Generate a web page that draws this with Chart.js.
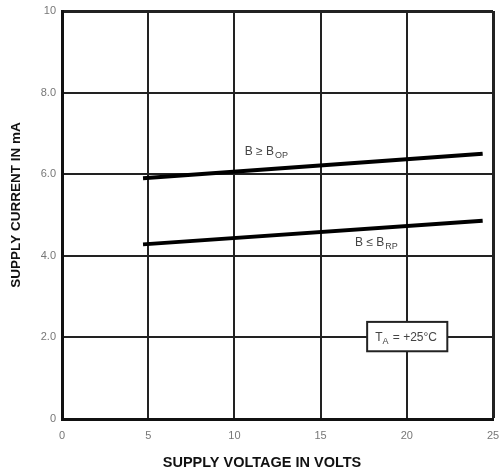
<!DOCTYPE html>
<html>
<head>
<meta charset="utf-8">
<script src="https://cdn.jsdelivr.net/npm/chart.js@4/dist/chart.umd.min.js"></script>
<style>
  html, body { margin: 0; padding: 0; background: #fff; }
  #wrap { width: 500px; height: 473px; position: relative; }
</style>
</head>
<body>
<div id="wrap"><canvas id="chart"></canvas></div>
<script>
// supply voltage (V) vs supply current (mA)
const voltsOp = [4.7, 24.4];
const currentOp = [5.9, 6.5];
const voltsRp = [4.7, 24.4];
const currentRp = [4.28, 4.86];

const xTicks = [0, 5, 10, 15, 20, 25];
const yTicks = [0, 2, 4, 6, 8, 10];
const yTickLabels = ['0', '2.0', '4.0', '6.0', '8.0', '10'];

const xTitle = 'SUPPLY VOLTAGE IN VOLTS';
const yTitle = 'SUPPLY CURRENT IN mA';

const FONT = '"Liberation Sans", Arial, sans-serif';

const toPoints = (xs, ys) => xs.map((x, i) => ({x: x, y: ys[i]}));

// labels drawn on the plot (subscripts, the temperature box, axis titles)
const annotations = {
	id: 'annotations',
	afterDatasetsDraw(chart) {
		const {ctx, scales: {x, y}} = chart;
		ctx.save();
		ctx.fillStyle = '#444';
		ctx.textBaseline = 'alphabetic';

		function subLabel(main, sub, px, py) {
			ctx.font = '12px ' + FONT;
			ctx.fillText(main, px, py);
			const w = ctx.measureText(main).width;
			ctx.font = '9px ' + FONT;
			ctx.fillText(sub, px + w + 1, py + 3);
		}

		subLabel('B \u2265 B', 'OP', x.getPixelForValue(10.6), y.getPixelForValue(6.48));
		subLabel('B \u2264 B', 'RP', x.getPixelForValue(17.0), y.getPixelForValue(4.25));

		// T_A box
		const bx0 = x.getPixelForValue(17.7), bx1 = x.getPixelForValue(22.35);
		const by0 = y.getPixelForValue(2.38), by1 = y.getPixelForValue(1.66);
		ctx.fillStyle = '#fff';
		ctx.fillRect(bx0, by0, bx1 - bx0, by1 - by0);
		ctx.strokeStyle = '#222';
		ctx.lineWidth = 2;
		ctx.strokeRect(bx0, by0, bx1 - bx0, by1 - by0);
		ctx.fillStyle = '#444';
		ctx.font = '12px ' + FONT;
		const ty = (by0 + by1) / 2 + 4;
		let tx = bx0 + 8;
		ctx.fillText('T', tx, ty);
		tx += ctx.measureText('T').width;
		ctx.font = '9px ' + FONT;
		ctx.fillText('A', tx, ty + 3);
		tx += ctx.measureText('A').width + 1;
		ctx.font = '12px ' + FONT;
		ctx.fillText(' = +25\u00B0C', tx, ty);

		// axis titles
		ctx.fillStyle = '#111';
		ctx.textAlign = 'center';
		ctx.textBaseline = 'middle';
		ctx.font = 'bold 14.5px ' + FONT;
		ctx.fillText(xTitle, 262, 463);
		ctx.translate(16, 205);
		ctx.rotate(-Math.PI / 2);
		ctx.font = 'bold 13.5px ' + FONT;
		ctx.fillText(yTitle, 0, 0);
		ctx.restore();
	}
};

const ctx = document.getElementById('chart');

new Chart(ctx, {
	type: 'scatter',
	data: {
		datasets: [
			{
				label: 'B >= BOP',
				data: toPoints(voltsOp, currentOp),
				showLine: true,
				borderColor: '#000',
				borderWidth: 4,
				pointRadius: 0
			},
			{
				label: 'B <= BRP',
				data: toPoints(voltsRp, currentRp),
				showLine: true,
				borderColor: '#000',
				borderWidth: 4,
				pointRadius: 0
			}
		]
	},
	options: {
		responsive: true,
		maintainAspectRatio: false,
		animation: false,
		layout: { padding: { top: 11, right: 7, left: 0, bottom: 0 } },
		plugins: {
			legend: { display: false },
			tooltip: { enabled: false }
		},
		scales: {
			x: {
				type: 'linear',
				min: 0,
				max: 25,
				afterBuildTicks: (axis) => { axis.ticks = xTicks.map(v => ({value: v})); },
				afterFit: (axis) => {
					axis.height = 54;
					axis.paddingLeft = 0;
					axis.paddingRight = 0;
				},
				grid: {
					color: '#222',
					lineWidth: (c) => (c.tick && c.tick.value === 25) ? 3 : 2,
					drawTicks: false
				},
				border: { color: '#111', width: 3 },
				ticks: {
					padding: 10,
					color: '#777',
					font: { family: FONT, size: 11 },
					callback: (v) => String(v)
				}
			},
			y: {
				type: 'linear',
				min: 0,
				max: 10,
				afterBuildTicks: (axis) => { axis.ticks = yTicks.map(v => ({value: v})); },
				afterFit: (axis) => {
					axis.width = 62;
					axis.paddingTop = 0;
					axis.paddingBottom = 0;
				},
				grid: {
					color: '#222',
					lineWidth: (c) => (c.tick && c.tick.value === 10) ? 3 : 2,
					drawTicks: false
				},
				border: { color: '#111', width: 3 },
				ticks: {
					padding: 6,
					color: '#777',
					font: { family: FONT, size: 11 },
					callback: (v) => yTickLabels[yTicks.indexOf(v)]
				}
			}
		}
	},
	plugins: [annotations]
});
</script>
</body>
</html>
